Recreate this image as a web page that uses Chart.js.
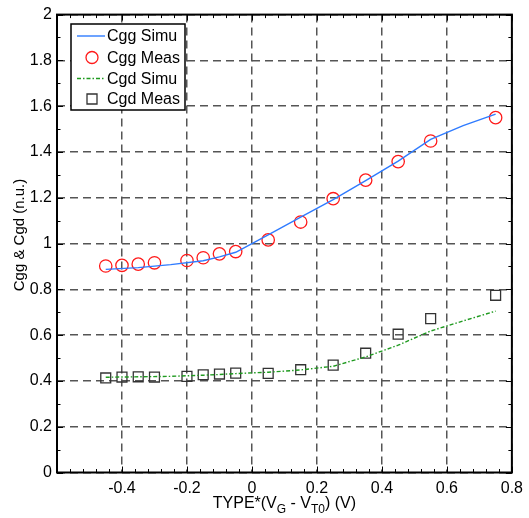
<!DOCTYPE html>
<html><head><meta charset="utf-8">
<script src="https://cdn.jsdelivr.net/npm/chart.js@4/dist/chart.umd.min.js"></script>
<style>html,body{margin:0;padding:0;background:#fff;}#wrap{width:529px;height:518px;position:relative;}</style>
</head><body><div id="wrap"><canvas id="c"></canvas></div>
<script>
const measX   = [-0.45,-0.4,-0.35,-0.3,-0.2,-0.15,-0.1,-0.05,0.05,0.15,0.25,0.35,0.45,0.55,0.75];
const cggMeas = [0.902,0.905,0.910,0.916,0.926,0.938,0.955,0.965,1.016,1.094,1.196,1.277,1.358,1.448,1.550];
const cgdMeas = [0.413,0.417,0.418,0.417,0.420,0.427,0.430,0.434,0.433,0.449,0.469,0.521,0.604,0.672,0.774];
const simuX   = [-0.45,-0.35,-0.25,-0.15,-0.1,-0.05,0,0.05,0.15,0.25,0.35,0.45,0.55,0.65,0.75];
const cggSimu = [0.887,0.895,0.908,0.925,0.942,0.962,1.0,1.038,1.115,1.192,1.275,1.36,1.455,1.515,1.565];
const cgdSimu = [0.416,0.418,0.420,0.425,0.428,0.432,0.435,0.438,0.448,0.464,0.505,0.556,0.618,0.662,0.705];
const xTicks  = [-0.6,-0.4,-0.2,0,0.2,0.4,0.6,0.8];
const yTicks  = [0,0.2,0.4,0.6,0.8,1,1.2,1.4,1.6,1.8,2];
const legendLabels = ['Cgg Simu','Cgg Meas','Cgd Simu','Cgd Meas'];

const pts = (xs, ys) => xs.map((x,i)=>({x, y: ys[i]}));
const FONT = '"Liberation Sans", Arial, sans-serif';

const frame = {
  id:'frame',
  afterDraw(chart){
    const {ctx, chartArea:a, scales:{x, y}} = chart;
    ctx.save();
    ctx.strokeStyle = '#000'; ctx.lineWidth = 1;
    const xmin = xTicks[0], xmax = xTicks[xTicks.length-1];
    for (let i=0;i<=Math.round((xmax-xmin)/0.04);i++){
      const v = xmin + i*0.04;
      const px = Math.round(x.getPixelForValue(v))+0.5;
      const L = (i%5===0)?6:3.5;
      ctx.beginPath();
      ctx.moveTo(px,a.bottom); ctx.lineTo(px,a.bottom-L);
      ctx.moveTo(px,a.top); ctx.lineTo(px,a.top+L);
      ctx.stroke();
    }
    for (let i=0;i<=20;i++){
      const v = i*0.1;
      const py = Math.round(y.getPixelForValue(v))+0.5;
      const L = (i%2===0)?6:3.5;
      ctx.beginPath();
      ctx.moveTo(a.left,py); ctx.lineTo(a.left+L,py);
      ctx.moveTo(a.right,py); ctx.lineTo(a.right-L,py);
      ctx.stroke();
    }
    ctx.lineWidth = 2; ctx.strokeStyle='#000';
    ctx.strokeRect(a.left, a.top, a.right-a.left, a.bottom-a.top);

    // legend
    const lx = 71, ly = 24, lw = 114, lh = 86;
    ctx.fillStyle='#fff'; ctx.fillRect(lx,ly,lw,lh);
    ctx.lineWidth = 1.5; ctx.strokeRect(lx,ly,lw,lh);
    const rows = [36, 57.5, 78.5, 99];
    ctx.font = '16px ' + FONT; ctx.textBaseline='middle'; ctx.textAlign='left';
    chart.data.datasets.forEach((ds,i)=>{
      const ry = rows[i];
      ctx.save();
      if (ds.showLine){
        ctx.strokeStyle = ds.borderColor; ctx.lineWidth = ds.borderWidth;
        ctx.setLineDash(ds.borderDash||[]);
        ctx.beginPath(); ctx.moveTo(77,ry); ctx.lineTo(105,ry); ctx.stroke();
      } else {
        ctx.strokeStyle = ds.pointBorderColor; ctx.lineWidth = ds.pointBorderWidth;
        ctx.beginPath();
        if (ds.pointStyle==='circle'){ ctx.arc(92,ry,6,0,Math.PI*2); }
        else { ctx.rect(87,ry-5,10,10); }
        ctx.stroke();
      }
      ctx.restore();
      ctx.fillStyle='#000';
      ctx.fillText(legendLabels[i], 107, ry+1);
    });

    // axis titles
    ctx.fillStyle='#000';
    ctx.textBaseline='alphabetic';
    const parts = [['TYPE*(V',0],['G',1],[' - V',0],['T0',1],[') (V)',0]];
    let tw = 0;
    parts.forEach(([t,s])=>{ ctx.font = (s?'12px ':'16px ')+FONT; tw += ctx.measureText(t).width; });
    let cx = (a.left+a.right)/2 - tw/2;
    const base = 508;
    parts.forEach(([t,s])=>{
      ctx.font = (s?'12px ':'16px ')+FONT;
      ctx.fillText(t, cx, base + (s?5:0));
      cx += ctx.measureText(t).width;
    });
    ctx.translate(24, 235);
    ctx.rotate(-Math.PI/2);
    ctx.font = '15px '+FONT; ctx.textAlign='center';
    ctx.fillText('Cgg & Cgd (n.u.)', 0, 0);
    ctx.restore();
  }
};

new Chart(document.getElementById('c'), {
  type:'scatter',
  data:{ datasets:[
    {label:legendLabels[0], data:pts(simuX,cggSimu), showLine:true, borderColor:'#2f7bff', borderWidth:1.4, pointRadius:0, fill:false, tension:0},
    {label:legendLabels[1], data:pts(measX,cggMeas), showLine:false, pointStyle:'circle', pointRadius:6.2, pointBorderColor:'#ff1a1a', pointBackgroundColor:'rgba(0,0,0,0)', pointBorderWidth:1.3},
    {label:legendLabels[2], data:pts(simuX,cgdSimu), showLine:true, borderColor:'#1f9a1f', borderWidth:1.4, borderDash:[4,2,1.5,2], pointRadius:0, fill:false, tension:0},
    {label:legendLabels[3], data:pts(measX,cgdMeas), showLine:false, pointStyle:'rect', pointRadius:7, pointBorderColor:'#333', pointBackgroundColor:'rgba(0,0,0,0)', pointBorderWidth:1.3}
  ]},
  options:{
    responsive:true, maintainAspectRatio:false, animation:false,
    layout:{padding:{left:0,right:13,top:12,bottom:0}},
    plugins:{legend:{display:false}, tooltip:{enabled:false}},
    scales:{
      x:{type:'linear', min:xTicks[0], max:xTicks[xTicks.length-1],
        afterBuildTicks:s=>{ s.ticks = xTicks.map(v=>({value:v})); },
        afterFit:s=>{ s.height = 45.5; },
        ticks:{autoSkip:false, maxRotation:0, padding:6, color:'#000', font:{family:FONT,size:16},
          callback:(v)=> (Math.abs(v-xTicks[0])<1e-9 ? '' : String(Math.round(v*100)/100))},
        grid:{color:'#555', lineWidth:1.5, drawTicks:false},
        border:{display:false, dash:[8,5]}},
      y:{type:'linear', min:yTicks[0], max:yTicks[yTicks.length-1],
        afterBuildTicks:s=>{ s.ticks = yTicks.map(v=>({value:v})); },
        afterFit:s=>{ s.width = 57; },
        ticks:{autoSkip:false, padding:5, color:'#000', font:{family:FONT,size:16},
          callback:(v)=> String(Math.round(v*100)/100)},
        grid:{color:'#555', lineWidth:1.5, drawTicks:false},
        border:{display:false, dash:[8,5]}}
    }
  },
  plugins:[frame]
});
</script></body></html>
